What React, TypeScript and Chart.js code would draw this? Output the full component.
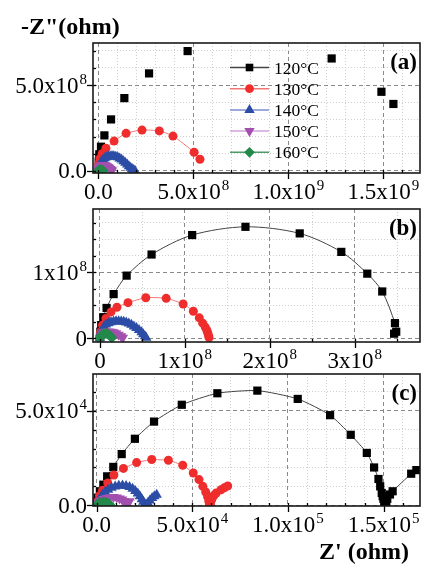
import React, { useEffect, useRef } from 'react';
import { Chart, registerables } from 'chart.js';

Chart.register(...registerables);

const FONT = '"Liberation Serif", "Times New Roman", serif';

const SERIES = ['120°C', '130°C', '140°C', '150°C', '160°C'];
const MARKER_COLORS = ['#000000', '#ef2d2d', '#2c4da6', '#a34fae', '#23894a'];
const LINE_COLORS = ['#444444', '#f27878', '#7b8fcf', '#d2a3da', '#4e9d69'];
const POINT_STYLES = ['rect', 'circle', 'triangle', 'triangle', 'rectRot'];
const POINT_ROT = [0, 0, 0, 180, 0];
const POINT_RADIUS = [5.8, 4.5, 6, 6, 5.5];

// ---------- Panel (a): values in units of 1e8 ohm ----------
const A_UNIT = 1e8;
const A_120 = [[0.02, 0.55], [0.05, 0.97], [0.14, 1.41], [0.32, 2.07], [0.67, 3.0], [1.37, 4.24], [2.67, 5.68], [4.7, 6.98], [12.28, 6.55], [14.9, 4.61], [15.53, 3.9]];
const A_130 = [[0.0, 0.02], [0.01, 0.2], [0.03, 0.45], [0.08, 0.72], [0.2, 1.0], [0.4, 1.32], [0.83, 1.74], [1.46, 2.19], [2.3, 2.38], [3.21, 2.33], [3.93, 2.03], [5.04, 1.09], [5.35, 0.68]];
const A_140 = [[0.0, 0.0], [0.01, 0.12], [0.04, 0.25], [0.08, 0.37], [0.13, 0.48], [0.19, 0.58], [0.26, 0.67], [0.34, 0.74], [0.43, 0.8], [0.52, 0.84], [0.62, 0.86], [0.72, 0.87], [0.82, 0.86], [0.92, 0.83], [1.02, 0.79], [1.12, 0.73], [1.22, 0.66], [1.32, 0.57], [1.42, 0.48], [1.52, 0.38], [1.61, 0.28], [1.7, 0.19], [1.78, 0.11], [1.86, 0.05], [1.93, 0.01]];
const A_150 = [[0.0, 0.0], [0.01, 0.08], [0.03, 0.15], [0.06, 0.22], [0.1, 0.27], [0.15, 0.31], [0.21, 0.33], [0.27, 0.34], [0.33, 0.33], [0.39, 0.31], [0.45, 0.28], [0.51, 0.23], [0.57, 0.18], [0.63, 0.12], [0.68, 0.07], [0.72, 0.02]];
const A_160 = [[0.0, 0.0], [0.02, 0.03], [0.05, 0.05], [0.09, 0.06], [0.13, 0.06], [0.17, 0.05], [0.21, 0.03], [0.25, 0.01]];
const A_X_TICKS = [0, 5e8, 1e9, 1.5e9];
const A_X_LABELS = ['0.0', '5.0x10^8', '1.0x10^9', '1.5x10^9'];
const A_Y_TICKS = [0, 5e8];
const A_Y_LABELS = ['0.0', '5.0x10^8'];

// ---------- Panel (b): values in units of 1e8 ohm ----------
const B_UNIT = 1e8;
const B_120 = [[0.0, 0.02], [0.005, 0.1], [0.015, 0.2], [0.039, 0.32], [0.078, 0.46], [0.161, 0.67], [0.314, 0.95], [0.608, 1.27], [1.086, 1.565], [1.714, 1.69], [2.353, 1.59], [2.843, 1.31], [3.149, 0.98], [3.325, 0.71], [3.475, 0.23], [3.49, 0.1], [3.465, 0.07]];
const B_130 = [[0.0, 0.0], [0.01, 0.1], [0.03, 0.2], [0.07, 0.3], [0.13, 0.4], [0.2, 0.47], [0.33, 0.54], [0.54, 0.615], [0.78, 0.606], [0.98, 0.52], [1.1, 0.41], [1.17, 0.31], [1.21, 0.23], [1.24, 0.17], [1.26, 0.12], [1.27, 0.08], [1.28, 0.04], [1.285, 0.01]];
const B_140 = [[0.0, 0.0], [0.005, 0.05], [0.015, 0.1], [0.03, 0.14], [0.05, 0.18], [0.07, 0.21], [0.1, 0.23], [0.13, 0.245], [0.16, 0.255], [0.19, 0.26], [0.22, 0.26], [0.25, 0.255], [0.28, 0.25], [0.31, 0.24], [0.34, 0.225], [0.37, 0.205], [0.4, 0.18], [0.43, 0.155], [0.46, 0.125], [0.49, 0.09], [0.51, 0.06], [0.53, 0.03], [0.545, 0.01]];
const B_150 = [[0.0, 0.0], [0.01, 0.04], [0.025, 0.07], [0.045, 0.09], [0.07, 0.1], [0.1, 0.105], [0.13, 0.1], [0.16, 0.09], [0.19, 0.075], [0.22, 0.055], [0.25, 0.03], [0.27, 0.01]];
const B_160 = [[0.0, 0.0], [0.01, 0.03], [0.025, 0.055], [0.045, 0.07], [0.065, 0.075], [0.085, 0.07], [0.105, 0.055], [0.125, 0.03], [0.14, 0.01]];
const B_X_TICKS = [0, 1e8, 2e8, 3e8];
const B_X_LABELS = ['0', '1x10^8', '2x10^8', '3x10^8'];
const B_Y_TICKS = [0, 1e8];
const B_Y_LABELS = ['0', '1x10^8'];

// ---------- Panel (c): values in units of 1e4 ohm ----------
const C_UNIT = 1e4;
const C_120 = [[0.02, 0.15], [0.05, 0.4], [0.17, 0.74], [0.35, 1.09], [0.55, 1.53], [0.87, 2.03], [1.31, 2.71], [2.0, 3.52], [3.0, 4.43], [4.45, 5.32], [6.31, 5.93], [8.4, 6.07], [10.51, 5.63], [12.2, 4.77], [13.28, 3.73], [14.12, 2.77], [14.5, 2.0], [14.73, 1.39], [14.82, 1.0], [14.9, 0.65], [14.95, 0.48], [14.99, 0.34], [15.03, 0.22], [15.07, 0.1], [15.1, 0.05], [15.14, 0.2], [15.19, 0.34], [15.33, 0.57], [15.47, 0.74], [16.44, 1.67], [16.71, 1.86]];
const C_130 = [[0.05, 0.2], [0.15, 0.5], [0.31, 0.79], [0.58, 1.18], [0.9, 1.6], [1.4, 1.95], [2.09, 2.26], [2.88, 2.42], [3.75, 2.38], [4.5, 2.12], [5.05, 1.71], [5.35, 1.36], [5.55, 1.0], [5.7, 0.7], [5.8, 0.45], [5.86, 0.22], [5.9, 0.05], [5.95, 0.08], [6.02, 0.3], [6.12, 0.5], [6.25, 0.65], [6.5, 0.82], [6.67, 0.92], [6.85, 1.02]];
const C_140 = [[0.02, 0.05], [0.08, 0.2], [0.18, 0.38], [0.3, 0.55], [0.45, 0.7], [0.6, 0.82], [0.78, 0.92], [0.97, 0.99], [1.16, 1.03], [1.35, 1.04], [1.54, 1.02], [1.72, 0.96], [1.88, 0.87], [2.02, 0.76], [2.15, 0.62], [2.26, 0.47], [2.36, 0.32], [2.44, 0.18], [2.52, 0.07], [2.6, 0.02], [2.68, 0.12], [2.78, 0.25], [2.9, 0.38], [3.02, 0.48], [3.14, 0.56]];
const C_150 = [[0.02, 0.05], [0.1, 0.15], [0.22, 0.25], [0.36, 0.33], [0.52, 0.39], [0.7, 0.42], [0.88, 0.43], [1.05, 0.41], [1.2, 0.36], [1.33, 0.3], [1.43, 0.22], [1.5, 0.13], [1.55, 0.06], [1.6, 0.08], [1.66, 0.15], [1.72, 0.21]];
const C_160 = [[0.02, 0.03], [0.08, 0.08], [0.16, 0.12], [0.26, 0.15], [0.36, 0.16], [0.46, 0.15], [0.55, 0.12], [0.62, 0.08], [0.68, 0.04]];
const C_X_TICKS = [0, 5e4, 1e5, 1.5e5];
const C_X_LABELS = ['0.0', '5.0x10^4', '1.0x10^5', '1.5x10^5'];
const C_Y_TICKS = [0, 5e4];
const C_Y_LABELS = ['0.0', '5.0x10^4'];

type Pt = number[];
interface PanelDef {
  id: string;
  letter: string;
  unit: number;
  series: Pt[][];
  showLine: boolean[];
  tension: number[];
  x: { min: number; max: number; step: number; ticks: number[]; labels: string[] };
  y: { min: number; max: number; step: number; ticks: number[]; labels: string[] };
  area: { left: number; top: number; right: number; bottom: number };
  legend?: boolean;
  topTitle?: string;
  bottomTitle?: string;
}

const PANELS: PanelDef[] = [
  {
    id: 'a', letter: '(a)', unit: A_UNIT,
    series: [A_120, A_130, A_140, A_150, A_160],
    showLine: [false, true, true, true, true],
    tension: [0, 0.2, 0, 0, 0],
    x: { min: -2.8e7, max: 1.693e9, step: 1e8, ticks: A_X_TICKS, labels: A_X_LABELS },
    y: { min: -1.2e7, max: 7.45e8, step: 1e8, ticks: A_Y_TICKS, labels: A_Y_LABELS },
    area: { left: 93, top: 43, right: 420, bottom: 173 },
    legend: true,
    topTitle: '-Z"(ohm)',
  },
  {
    id: 'b', letter: '(b)', unit: B_UNIT,
    series: [B_120, B_130, B_140, B_150, B_160],
    showLine: [true, true, true, true, true],
    tension: [0.3, 0.2, 0, 0, 0],
    x: { min: -0.082e8, max: 3.77e8, step: 0.5e8, ticks: B_X_TICKS, labels: B_X_LABELS },
    y: { min: -0.056e8, max: 1.96e8, step: 0.25e8, ticks: B_Y_TICKS, labels: B_Y_LABELS },
    area: { left: 93, top: 209, right: 420, bottom: 342 },
  },
  {
    id: 'c', letter: '(c)', unit: C_UNIT,
    series: [C_120, C_130, C_140, C_150, C_160],
    showLine: [true, true, true, true, true],
    tension: [0.2, 0.1, 0, 0, 0],
    x: { min: -0.19e4, max: 16.9e4, step: 1e4, ticks: C_X_TICKS, labels: C_X_LABELS },
    y: { min: -0.04e4, max: 6.95e4, step: 1e4, ticks: C_Y_TICKS, labels: C_Y_LABELS },
    area: { left: 93, top: 374, right: 420, bottom: 506 },
    bottomTitle: "Z' (ohm)",
  },
];

const W = 422;
const H = 564;
const TICK_PX = 23;
const SUP_PX = 15;

function isMajor(v: number | undefined, majors: number[], step: number) {
  if (v === undefined) return false;
  return majors.some((m) => Math.abs(m - v) < step * 1e-3);
}

function drawSupLabel(ctx: CanvasRenderingContext2D, label: string, x: number, y: number, align: 'right' | 'center') {
  const [base, exp] = label.split('^');
  ctx.font = `${TICK_PX}px ${FONT}`;
  const wb = ctx.measureText(base).width;
  ctx.font = `${SUP_PX}px ${FONT}`;
  const we = exp ? ctx.measureText(exp).width + 1 : 0;
  const total = wb + we;
  const x0 = align === 'right' ? x - total : x - total / 2;
  ctx.textAlign = 'left';
  ctx.textBaseline = 'alphabetic';
  ctx.fillStyle = '#000';
  ctx.font = `${TICK_PX}px ${FONT}`;
  ctx.fillText(base, x0, y);
  if (exp) {
    ctx.font = `${SUP_PX}px ${FONT}`;
    ctx.fillText(exp, x0 + wb + 1, y - 9);
  }
}

function drawMarker(ctx: CanvasRenderingContext2D, i: number, x: number, y: number) {
  ctx.fillStyle = MARKER_COLORS[i];
  ctx.beginPath();
  const style = POINT_STYLES[i];
  if (style === 'rect') {
    ctx.rect(x - 3.8, y - 3.8, 7.6, 7.6);
  } else if (style === 'circle') {
    ctx.arc(x, y, 4.4, 0, Math.PI * 2);
  } else if (style === 'triangle') {
    const r = 6;
    const s = POINT_ROT[i] === 180 ? -1 : 1;
    ctx.moveTo(x, y - s * r);
    ctx.lineTo(x + r * 0.866, y + s * r * 0.5);
    ctx.lineTo(x - r * 0.866, y + s * r * 0.5);
    ctx.closePath();
  } else {
    const r = 5.4;
    ctx.moveTo(x, y - r);
    ctx.lineTo(x + r, y);
    ctx.lineTo(x, y + r);
    ctx.lineTo(x - r, y);
    ctx.closePath();
  }
  ctx.fill();
}

function makeDecor(p: PanelDef) {
  return {
    id: 'decor_' + p.id,
    afterDraw(chart: any) {
      const { ctx, chartArea: ca, scales } = chart;
      const xs = scales.x;
      const ys = scales.y;
      ctx.save();
      // tick marks
      ctx.strokeStyle = '#000';
      ctx.lineWidth = 1.3;
      for (const t of xs.ticks) {
        const px = Math.round(xs.getPixelForValue(t.value)) + 0.5;
        ctx.beginPath();
        if (isMajor(t.value, p.x.ticks, p.x.step)) {
          ctx.moveTo(px, ca.bottom - 3);
          ctx.lineTo(px, ca.bottom + 6);
        } else {
          ctx.moveTo(px, ca.bottom);
          ctx.lineTo(px, ca.bottom - 3);
        }
        ctx.stroke();
      }
      for (const t of ys.ticks) {
        const py = Math.round(ys.getPixelForValue(t.value)) + 0.5;
        ctx.beginPath();
        if (isMajor(t.value, p.y.ticks, p.y.step)) {
          ctx.moveTo(ca.left - 6, py);
          ctx.lineTo(ca.left + 3, py);
        } else {
          ctx.moveTo(ca.left, py);
          ctx.lineTo(ca.left + 3, py);
        }
        ctx.stroke();
      }
      // frame
      ctx.strokeStyle = '#1a1a1a';
      ctx.lineWidth = 1.6;
      ctx.strokeRect(ca.left, ca.top, ca.right - ca.left, ca.bottom - ca.top);
      // tick labels
      p.x.ticks.forEach((v, k) => {
        drawSupLabel(ctx, p.x.labels[k], xs.getPixelForValue(v), ca.bottom + 26, 'center');
      });
      p.y.ticks.forEach((v, k) => {
        drawSupLabel(ctx, p.y.labels[k], ca.left - 6, ys.getPixelForValue(v) + 7.5, 'right');
      });
      // panel letter
      ctx.font = `bold 23px ${FONT}`;
      ctx.textAlign = 'right';
      ctx.textBaseline = 'alphabetic';
      ctx.fillStyle = '#000';
      ctx.fillText(p.letter, ca.right - 3, ca.top + 26);
      // legend
      if (p.legend) {
        SERIES.forEach((name, i) => {
          const y = 67.5 + i * 21.2;
          ctx.strokeStyle = LINE_COLORS[i];
          ctx.lineWidth = 1.5;
          ctx.beginPath();
          ctx.moveTo(230, y);
          ctx.lineTo(269, y);
          ctx.stroke();
          drawMarker(ctx, i, 249.5, y);
          ctx.fillStyle = '#000';
          ctx.font = `17.5px ${FONT}`;
          ctx.textAlign = 'left';
          ctx.fillText(name, 274, y + 6);
        });
      }
      if (p.topTitle) {
        ctx.font = `bold 24px ${FONT}`;
        ctx.textAlign = 'left';
        ctx.fillStyle = '#000';
        ctx.fillText(p.topTitle, 21, 34);
      }
      if (p.bottomTitle) {
        ctx.font = `bold 24px ${FONT}`;
        ctx.textAlign = 'left';
        ctx.fillStyle = '#000';
        ctx.fillText(p.bottomTitle, 319, 559);
      }
      ctx.restore();
    },
  };
}

function axisOptions(ax: PanelDef['x'], isX: boolean) {
  return {
    type: 'linear' as const,
    min: ax.min,
    max: ax.max,
    afterBuildTicks: (scale: any) => {
      const ticks = [];
      const k0 = Math.ceil(ax.min / ax.step - 1e-9);
      const k1 = Math.floor(ax.max / ax.step + 1e-9);
      for (let k = k0; k <= k1; k++) ticks.push({ value: k * ax.step });
      scale.ticks = ticks;
    },
    afterFit: (scale: any) => {
      if (isX) scale.height = 0;
      else scale.width = 0;
    },
    ticks: { display: false },
    border: {
      display: false,
      dash: (c: any) => (isMajor(c.tick?.value, ax.ticks, ax.step) ? [4, 3] : [1, 2]),
    },
    grid: {
      drawTicks: false,
      lineWidth: 1,
      color: (c: any) => (isMajor(c.tick?.value, ax.ticks, ax.step) ? '#8a8a8a' : '#cfcfcf'),
    },
  };
}

function buildConfig(p: PanelDef): any {
  return {
    type: 'scatter',
    data: {
      datasets: p.series.map((pts, i) => ({
        label: SERIES[i],
        data: pts.map(([x, y]) => ({ x: x * p.unit, y: y * p.unit })),
        showLine: p.showLine[i],
        borderColor: LINE_COLORS[i],
        borderWidth: 1,
        backgroundColor: MARKER_COLORS[i],
        pointBackgroundColor: MARKER_COLORS[i],
        pointBorderColor: MARKER_COLORS[i],
        pointBorderWidth: 0,
        pointStyle: POINT_STYLES[i],
        rotation: POINT_ROT[i],
        pointRadius: POINT_RADIUS[i],
        pointHoverRadius: POINT_RADIUS[i],
        tension: p.tension[i],
        order: 4 - i,
      })),
    },
    options: {
      responsive: false,
      animation: false,
      events: [],
      layout: {
        autoPadding: false,
        padding: {
          left: p.area.left,
          top: p.area.top,
          right: W - p.area.right,
          bottom: H - p.area.bottom,
        },
      },
      plugins: {
        legend: { display: false },
        tooltip: { enabled: false },
        title: { display: false },
      },
      scales: {
        x: axisOptions(p.x, true),
        y: axisOptions(p.y, false),
      },
    },
    plugins: [makeDecor(p)],
  };
}

function PanelChart({ panel }: { panel: PanelDef }) {
  const ref = useRef<HTMLCanvasElement>(null);
  useEffect(() => {
    if (!ref.current) return;
    const chart = new Chart(ref.current, buildConfig(panel));
    return () => chart.destroy();
  }, [panel]);
  return (
    <canvas
      ref={ref}
      width={W}
      height={H}
      style={{ position: 'absolute', left: 0, top: 0, width: W, height: H }}
    />
  );
}

export default function App() {
  return (
    <div style={{ position: 'absolute', left: 0, top: 0, width: W, height: H, background: '#ffffff', overflow: 'hidden' }}>
      {PANELS.map((p) => (
        <PanelChart key={p.id} panel={p} />
      ))}
    </div>
  );
}
